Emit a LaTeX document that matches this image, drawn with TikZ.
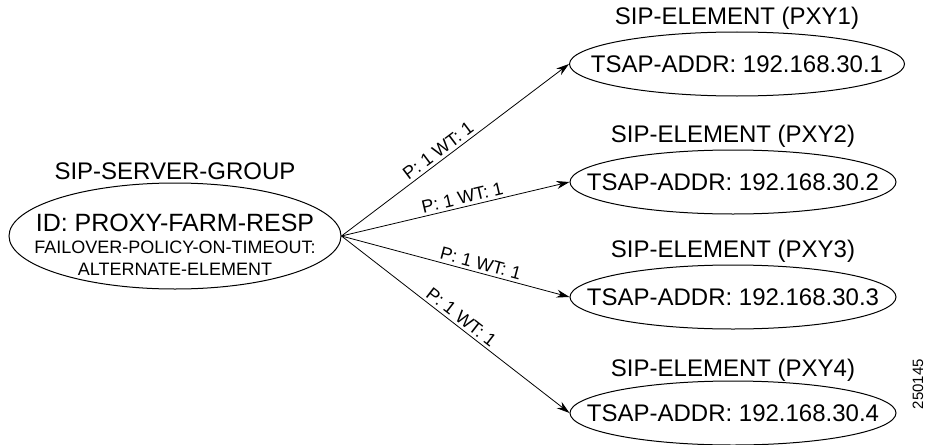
\documentclass[tikz,border=0pt]{standalone}
\usepackage{fontspec}
\setmainfont{Liberation Sans}
\usetikzlibrary{
  arrows.meta,
  positioning,
  shapes.geometric
}
\newcommand{\fsz}[1]{\fontsize{#1}{22}\selectfont}

\begin{document}
\begin{tikzpicture}[
  x=1pt,
  y=-1pt,
  grpshape/.style={
    draw,
    ellipse,
    line width=1pt,
    minimum width=332pt,
    minimum height=106pt,
    inner sep=0pt
  },
  grptext/.style={
    align=center,
    font=\fsz{18},
    inner sep=0pt
  },
  sipelement/.style={
    draw,
    ellipse,
    line width=1pt,
    minimum width=326pt,
    minimum height=64pt,
    inner xsep=-40pt,
    inner ysep=0pt,
    font=\fsz{24}
  },
  title/.style={
    font=\fsz{24},
    inner sep=0pt
  },
  wtlabel/.style={
    sloped,
    above=2pt,
    font=\fsz{18},
    inner sep=1pt
  },
  >={Stealth[length=13pt,width=8pt]}
]
\useasboundingbox (0,0) rectangle (925,444);

% Server group
\node[grpshape] (grp) at (175,236) {};
\node[grptext] (grpinfo) at (175,245) {%
  {\fsz{25}ID: PROXY-FARM-RESP}\\
  FAILOVER-POLICY-ON-TIMEOUT:\\
  ALTERNATE-ELEMENT};
\node[title, anchor=base] (grptitle) at ([yshift=3pt]grp.north) {SIP-SERVER-GROUP};

% Elements
\node[sipelement, minimum width=335pt] (pxy1) at (737,64) {TSAP-ADDR: 192.168.30.1};
\node[sipelement] (pxy2) at (733,182) {TSAP-ADDR: 192.168.30.2};
\node[sipelement] (pxy3) at (733,297) {TSAP-ADDR: 192.168.30.3};
\node[sipelement] (pxy4) at (733,413) {TSAP-ADDR: 192.168.30.4};

\node[title, above=7pt of pxy1, anchor=base] (pxy1title) {SIP-ELEMENT (PXY1)};
\node[title, above=7pt of pxy2, anchor=base] (pxy2title) {SIP-ELEMENT (PXY2)};
\node[title, above=7pt of pxy3, anchor=base] (pxy3title) {SIP-ELEMENT (PXY3)};
\node[title, above=4pt of pxy4, anchor=base] (pxy4title) {SIP-ELEMENT (PXY4)};

% Arrows
\draw[->,line width=0.8pt] (grp.east) to
  node[wtlabel, pos=0.45] {P: 1 WT: 1}
  (pxy1.west);
\draw[->,line width=0.8pt] (grp.east) to
  node[wtlabel, pos=0.54] {P: 1 WT: 1}
  (pxy2.west);
\draw[->,line width=0.8pt] (grp.east) to
  node[wtlabel, pos=0.60] {P: 1 WT: 1}
  (pxy3.west);
\draw[->,line width=0.8pt] (grp.east) to
  node[wtlabel, pos=0.50] {P: 1 WT: 1}
  (pxy4.west);

% Figure number
\node[font=\fsz{15}, rotate=90, inner sep=0pt] (figno) at (918,384) {250145};

\end{tikzpicture}
\end{document}
